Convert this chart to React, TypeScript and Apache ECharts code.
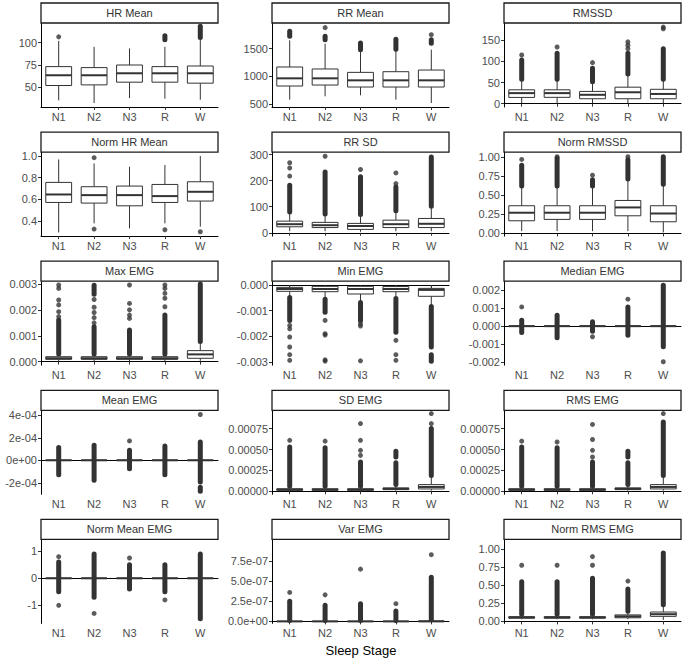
import React, { useEffect, useRef } from "react";
import * as echarts from "echarts";

const stages = ["N1", "N2", "N3", "R", "W"];

// ---------- Row 1 ----------
const hrMeanBoxes = [[35.7, 52.2, 63.6, 73.2, 101.8], [32.7, 52.9, 63.6, 72.1, 95.2], [38.2, 55.9, 65.8, 75, 93.4], [37.5, 55.9, 65.8, 73.2, 95.2], [36.4, 54.8, 65.8, 73.9, 104]];
const hrMeanRuns = [[3, 103, 107.4], [4, 105.5, 118]];
const hrMeanDots = [[0, 106.3]];
const hrMeanRange = [28.3, 121.7];
const hrMeanTicks = [50, 75, 100];
const hrMeanLabels = ["50", "75", "100"];

const rrMeanBoxes = [[578, 825, 964, 1169, 1651], [639, 843, 964, 1133, 1590], [657, 807, 928, 1072, 1470], [578, 807, 928, 1084, 1470], [518, 807, 928, 1114, 1482]];
const rrMeanRuns = [[0, 1723, 1813], [1, 1663, 1723], [2, 1480, 1602], [3, 1490, 1669], [4, 1600, 1663]];
const rrMeanDots = [[1, 1880], [4, 1753]];
const rrMeanRange = [446, 1964];
const rrMeanTicks = [500, 1000, 1500];
const rrMeanLabels = ["500", "1000", "1500"];

const rmssdBoxes = [[1.6, 14.8, 25, 32.8, 56], [0, 15, 25, 32.8, 56], [1, 11.7, 21, 29, 48], [1, 11.7, 27, 39, 68], [1, 11.7, 23, 34, 56]];
const rmssdRuns = [[0, 58, 103], [1, 58, 119], [2, 52, 84], [3, 70, 119], [4, 58, 130]];
const rmssdDots = [[0, 115], [1, 134], [2, 97], [3, 130], [3, 138], [3, 146], [4, 177], [4, 181]];
const rmssdRange = [-7.8, 190.6];
const rmssdTicks = [0, 50, 100, 150];
const rmssdLabels = ["0", "50", "100", "150"];

// ---------- Row 2 ----------
const normHrBoxes = [[0.292, 0.57, 0.644, 0.756, 0.969], [0.376, 0.564, 0.638, 0.716, 0.932], [0.329, 0.539, 0.638, 0.722, 0.901], [0.376, 0.57, 0.629, 0.737, 0.917], [0.345, 0.583, 0.669, 0.762, 1.0]];
const normHrRuns: number[][] = [];
const normHrDots = [[1, 0.985], [1, 0.323], [3, 0.317], [4, 0.298]];
const normHrRange = [0.258, 1.037];
const normHrTicks = [0.4, 0.6, 0.8, 1.0];
const normHrLabels = ["0.4", "0.6", "0.8", "1.0"];

const rrSdBoxes = [[6, 23, 33, 44.7, 78], [6, 20, 29, 40, 70], [4, 13, 26, 36, 68], [6, 20, 33, 48.5, 83], [6, 20, 34.5, 55, 100]];
const rrSdRuns = [[0, 80, 183], [1, 72, 234], [2, 70, 215], [3, 85, 176], [4, 102, 291]];
const rrSdDots = [[0, 218], [0, 249], [0, 269], [1, 294], [2, 243], [3, 189], [3, 230]];
const rrSdRange = [-12.8, 310];
const rrSdTicks = [0, 100, 200, 300];
const rrSdLabels = ["0", "100", "200", "300"];

const normRmssdBoxes = [[0.03, 0.165, 0.27, 0.361, 0.61], [0.03, 0.183, 0.27, 0.361, 0.61], [0.03, 0.183, 0.27, 0.361, 0.61], [0.03, 0.23, 0.339, 0.43, 0.7], [0.013, 0.152, 0.26, 0.361, 0.63]];
const normRmssdRuns = [[0, 0.62, 0.89], [1, 0.62, 0.98], [2, 0.62, 0.7], [3, 0.71, 0.96], [4, 0.64, 1.0]];
const normRmssdDots = [[0, 0.965], [1, 1.0], [2, 0.76], [3, 1.0]];
const normRmssdRange = [-0.035, 1.061];
const normRmssdTicks = [0, 0.25, 0.5, 0.75, 1.0];
const normRmssdLabels = ["0.00", "0.25", "0.50", "0.75", "1.00"];

// ---------- Row 3 ----------
const maxEmgBoxes = [[0.00002, 0.00009, 0.00013, 0.00019, 0.00028], [0.00002, 0.00009, 0.00013, 0.00019, 0.00028], [0.00002, 0.00009, 0.00013, 0.00019, 0.00028], [0.00002, 0.00009, 0.00013, 0.00019, 0.00028], [0.00003, 0.000129, 0.00028, 0.000425, 0.00077]];
const maxEmgRuns = [[0, 0.00029, 0.00161], [1, 0.00029, 0.00135], [1, 0.0026, 0.00295], [2, 0.00029, 0.00122], [3, 0.00029, 0.0018], [4, 0.00078, 0.003]];
const maxEmgDots = [[0, 0.00174], [0, 0.00193], [0, 0.00219], [0, 0.00238], [0, 0.00283], [0, 0.00296], [1, 0.0015], [1, 0.0017], [1, 0.0019], [1, 0.0021], [1, 0.0024], [2, 0.00167], [2, 0.0018], [2, 0.002], [2, 0.00225], [2, 0.00296], [3, 0.00212], [3, 0.00245], [3, 0.00264], [3, 0.00283], [3, 0.00296]];
const maxEmgRange = [-0.000138, 0.003108];
const maxEmgTicks = [0, 0.001, 0.002, 0.003];
const maxEmgLabels = ["0.000", "0.001", "0.002", "0.003"];

const minEmgBoxes = [[-0.00048, -0.000246, -0.000155, -0.00009, 0], [-0.00054, -0.00026, -0.000155, -0.00005, 0], [-0.00067, -0.00035, -0.000155, -0.00005, 0], [-0.00052, -0.00026, -0.000155, -0.00006, 0], [-0.00083, -0.00044, -0.00019, -0.00013, 0]];
const minEmgRuns = [[0, -0.00138, -0.00049], [1, -0.00106, -0.00055], [2, -0.00138, -0.00068], [3, -0.00184, -0.00053], [4, -0.00242, -0.00084], [4, -0.00298, -0.00272]];
const minEmgDots = [[0, -0.00158], [0, -0.00171], [0, -0.00203], [0, -0.00242], [0, -0.00272], [0, -0.00294], [1, -0.00138], [1, -0.0019], [1, -0.00195], [1, -0.00292], [1, -0.00297], [2, -0.00151], [2, -0.0016], [2, -0.00296], [3, -0.00216], [3, -0.00272], [3, -0.00294]];
const minEmgRange = [-0.00313, 0.00015];
const minEmgTicks = [-0.003, -0.002, -0.001, 0];
const minEmgLabels = ["-0.003", "-0.002", "-0.001", "0.000"];

const medianEmgBoxes = [[0, 0, 0, 0, 0], [0, 0, 0, 0, 0], [0, 0, 0, 0, 0], [0, 0, 0, 0, 0], [0, 0, 0, 0, 0]];
const medianEmgRuns = [[0, -0.00035, 0.00033], [1, -0.00065, 0.00061], [2, -0.00028, 0.00024], [3, -0.0005, 0.00107], [4, -0.00115, 0.00228]];
const medianEmgDots = [[0, 0.00107], [2, -0.00059], [3, 0.0015], [4, -0.00198]];
const medianEmgRange = [-0.00217, 0.0025];
const medianEmgTicks = [-0.002, -0.001, 0, 0.001, 0.002];
const medianEmgLabels = ["-0.002", "-0.001", "0.000", "0.001", "0.002"];

// ---------- Row 4 ----------
const meanEmgBoxes = [[0, 0, 0, 0, 0], [0, 0, 0, 0, 0], [0, 0, 0, 0, 0], [0, 0, 0, 0, 0], [0, 0, 0, 0, 0]];
const meanEmgRuns = [[0, -1.28e-4, 1.13e-4], [1, -1.78e-4, 1.34e-4], [2, -0.74e-4, 0.89e-4], [3, -1.28e-4, 1.28e-4], [4, -1.93e-4, 1.63e-4], [4, -2.76e-4, -2.4e-4]];
const meanEmgDots = [[2, 1.72e-4], [4, 4.07e-4]];
const meanEmgRange = [-3.02e-4, 4.44e-4];
const meanEmgTicks = [-2e-4, 0, 2e-4, 4e-4];
const meanEmgLabels = ["-2e-04", "0e+00", "2e-04", "4e-04"];

const sdEmgBoxes = [[0.000003, 0.000012, 0.00002, 0.00003, 0.00006], [0.000003, 0.000012, 0.00002, 0.00003, 0.00006], [0.000003, 0.000012, 0.00002, 0.00003, 0.00006], [0.000008, 0.00002, 0.00003, 0.00004, 0.00008], [0.000008, 0.000028, 0.000052, 0.00008, 0.00019]];
const sdEmgRuns = [[0, 0.00006, 0.00053], [1, 0.00006, 0.00052], [2, 0.00006, 0.00035], [3, 0.00008, 0.00034], [3, 0.00041, 0.00048], [4, 0.00019, 0.00075]];
const sdEmgDots = [[0, 0.00061], [1, 0.0006], [2, 0.00043], [2, 0.00049], [2, 0.00061], [2, 0.00081], [4, 0.00081], [4, 0.00093]];
const sdEmgRange = [-0.000036, 0.000969];
const sdEmgTicks = [0, 0.00025, 0.0005, 0.00075];
const sdEmgLabels = ["0.00000", "0.00025", "0.00050", "0.00075"];

const rmsEmgBoxes = [[0.000003, 0.000012, 0.00002, 0.00003, 0.00006], [0.000003, 0.000012, 0.00002, 0.00003, 0.00006], [0.000003, 0.000012, 0.00002, 0.00003, 0.00006], [0.000008, 0.00002, 0.00003, 0.00004, 0.00008], [0.000008, 0.000028, 0.000052, 0.00008, 0.00019]];
const rmsEmgRuns = [[0, 0.00006, 0.00053], [1, 0.00006, 0.00052], [2, 0.00006, 0.00035], [3, 0.00008, 0.00034], [3, 0.00041, 0.00048], [4, 0.00019, 0.00083]];
const rmsEmgDots = [[0, 0.0006], [1, 0.00059], [2, 0.00041], [2, 0.00049], [2, 0.00062], [2, 0.0008], [4, 0.00093]];
const rmsEmgRange = [-0.000036, 0.000969];
const rmsEmgTicks = [0, 0.00025, 0.0005, 0.00075];
const rmsEmgLabels = ["0.00000", "0.00025", "0.00050", "0.00075"];

// ---------- Row 5 ----------
const normMeanEmgBoxes = [[0, 0, 0, 0, 0], [0, 0, 0, 0, 0], [0, 0, 0, 0, 0], [0, 0, 0, 0, 0], [0, 0, 0, 0, 0]];
const normMeanEmgRuns = [[0, -0.5, 0.6], [1, -0.7, 0.9], [2, -0.4, 0.5], [3, -0.5, 0.5], [4, -1.5, 0.9]];
const normMeanEmgDots = [[0, 0.8], [0, -1.0], [1, -1.3], [2, 0.75], [3, -0.8], [3, -1.7]];
const normMeanEmgRange = [-1.67, 1.44];
const normMeanEmgTicks = [-1, 0, 1];
const normMeanEmgLabels = ["-1", "0", "1"];

const varEmgBoxes = [[0, 0, 0, 0, 0.00000001], [0, 0, 0, 0, 0.00000001], [0, 0, 0, 0, 0.00000001], [0, 0, 0, 0, 0.00000001], [0, 0, 0, 0.000000005, 0.00000002]];
const varEmgRuns = [[0, 0.00000001, 0.00000025], [1, 0.00000001, 0.0000002], [2, 0.00000001, 0.00000022], [3, 0.00000001, 0.00000013], [4, 0.00000002, 0.00000055]];
const varEmgDots = [[0, 0.00000036], [1, 0.00000033], [2, 0.00000065], [3, 0.00000022], [4, 0.00000083]];
const varEmgRange = [-0.000000025, 0.00000102];
const varEmgTicks = [0, 0.00000025, 0.0000005, 0.00000075];
const varEmgLabels = ["0.0e+00", "2.5e-07", "5.0e-07", "7.5e-07"];

const normRmsEmgBoxes = [[0.03, 0.045, 0.055, 0.065, 0.09], [0.03, 0.045, 0.055, 0.065, 0.09], [0.03, 0.045, 0.055, 0.065, 0.09], [0.03, 0.05, 0.07, 0.09, 0.13], [0.02, 0.07, 0.1, 0.13, 0.22]];
const normRmsEmgRuns = [[0, 0.1, 0.55], [1, 0.1, 0.55], [2, 0.1, 0.6], [3, 0.14, 0.45], [4, 0.23, 0.95]];
const normRmsEmgDots = [[0, 0.78], [1, 0.78], [2, 0.78], [2, 0.9], [3, 0.56]];
const normRmsEmgRange = [-0.028, 1.139];
const normRmsEmgTicks = [0, 0.25, 0.5, 0.75, 1.0];
const normRmsEmgLabels = ["0.00", "0.25", "0.50", "0.75", "1.00"];

const panelTitles = ["HR Mean", "RR Mean", "RMSSD", "Norm HR Mean", "RR SD", "Norm RMSSD", "Max EMG", "Min EMG", "Median EMG", "Mean EMG", "SD EMG", "RMS EMG", "Norm Mean EMG", "Var EMG", "Norm RMS EMG"];
const panelBoxes = [hrMeanBoxes, rrMeanBoxes, rmssdBoxes, normHrBoxes, rrSdBoxes, normRmssdBoxes, maxEmgBoxes, minEmgBoxes, medianEmgBoxes, meanEmgBoxes, sdEmgBoxes, rmsEmgBoxes, normMeanEmgBoxes, varEmgBoxes, normRmsEmgBoxes];
const panelRuns = [hrMeanRuns, rrMeanRuns, rmssdRuns, normHrRuns, rrSdRuns, normRmssdRuns, maxEmgRuns, minEmgRuns, medianEmgRuns, meanEmgRuns, sdEmgRuns, rmsEmgRuns, normMeanEmgRuns, varEmgRuns, normRmsEmgRuns];
const panelDots = [hrMeanDots, rrMeanDots, rmssdDots, normHrDots, rrSdDots, normRmssdDots, maxEmgDots, minEmgDots, medianEmgDots, meanEmgDots, sdEmgDots, rmsEmgDots, normMeanEmgDots, varEmgDots, normRmsEmgDots];
const panelRanges = [hrMeanRange, rrMeanRange, rmssdRange, normHrRange, rrSdRange, normRmssdRange, maxEmgRange, minEmgRange, medianEmgRange, meanEmgRange, sdEmgRange, rmsEmgRange, normMeanEmgRange, varEmgRange, normRmsEmgRange];
const panelTicks = [hrMeanTicks, rrMeanTicks, rmssdTicks, normHrTicks, rrSdTicks, normRmssdTicks, maxEmgTicks, minEmgTicks, medianEmgTicks, meanEmgTicks, sdEmgTicks, rmsEmgTicks, normMeanEmgTicks, varEmgTicks, normRmsEmgTicks];
const panelLabels = [hrMeanLabels, rrMeanLabels, rmssdLabels, normHrLabels, rrSdLabels, normRmssdLabels, maxEmgLabels, minEmgLabels, medianEmgLabels, meanEmgLabels, sdEmgLabels, rmsEmgLabels, normMeanEmgLabels, varEmgLabels, normRmsEmgLabels];

const FONT = "'Liberation Sans', Arial, Helvetica, sans-serif";
const COL_LEFT = [41, 272, 504];
const PANEL_W = 177;
const PLOT_H = 84;
const STRIP_H = 20;
const ROW_BOTTOM0 = 107;
const ROW_STEP = 129.1;
const INK = "#333333";

function buildOption() {
  const grid: any[] = [];
  const xAxis: any[] = [];
  const yAxis: any[] = [];
  const series: any[] = [];
  const graphic: any[] = [];

  panelTitles.forEach((title, i) => {
    const r = Math.floor(i / 3);
    const c = i % 3;
    const left = COL_LEFT[c];
    const bottom = ROW_BOTTOM0 + r * ROW_STEP;
    const top = bottom - PLOT_H;
    grid.push({ left, top, width: PANEL_W, height: PLOT_H, containLabel: false });
    xAxis.push({
      type: "category",
      gridIndex: i,
      data: stages,
      boundaryGap: true,
      axisLine: { show: true, lineStyle: { color: "#000", width: 1 } },
      axisTick: { show: true, alignWithLabel: true, length: 3, lineStyle: { color: INK, width: 1 } },
      axisLabel: { color: "#4d4d4d", fontSize: 11, margin: 4, fontFamily: FONT },
      splitLine: { show: false },
    });
    const ticks = panelTicks[i];
    const labels = panelLabels[i];
    const span = panelRanges[i][1] - panelRanges[i][0];
    yAxis.push({
      type: "value",
      gridIndex: i,
      min: panelRanges[i][0],
      max: panelRanges[i][1],
      axisLine: { show: true, lineStyle: { color: "#000", width: 1 } },
      axisTick: { show: true, length: 3, customValues: ticks, lineStyle: { color: INK, width: 1 } },
      axisLabel: {
        color: "#4d4d4d",
        fontSize: 11,
        margin: 4,
        fontFamily: FONT,
        customValues: ticks,
        formatter: (v: number) => {
          let best = 0;
          ticks.forEach((t, k) => {
            if (Math.abs(t - v) < Math.abs(ticks[best] - v)) best = k;
          });
          return Math.abs(ticks[best] - v) < span * 0.01 ? labels[best] : "";
        },
      },
      splitLine: { show: false },
    });

    series.push({
      type: "custom",
      xAxisIndex: i,
      yAxisIndex: i,
      data: panelRuns[i],
      encode: { x: 0, y: [1, 2] },
      z: 2,
      renderItem: (params: any, api: any) => {
        const x = api.value(0);
        const a = api.coord([x, api.value(1)]);
        const b = api.coord([x, api.value(2)]);
        return {
          type: "line",
          shape: { x1: a[0], y1: a[1], x2: b[0], y2: b[1] },
          style: { stroke: INK, lineWidth: 5, lineCap: "round" },
        };
      },
    });
    series.push({
      type: "scatter",
      xAxisIndex: i,
      yAxisIndex: i,
      data: panelDots[i],
      symbol: "circle",
      symbolSize: 5,
      itemStyle: { color: INK },
      z: 2,
    });
    series.push({
      type: "custom",
      xAxisIndex: i,
      yAxisIndex: i,
      data: panelBoxes[i].map((b, k) => [k, ...b]),
      encode: { x: 0, y: [1, 2, 3, 4, 5] },
      z: 3,
      renderItem: (params: any, api: any) => {
        const x = api.value(0);
        const lo = api.coord([x, api.value(1)]);
        const q1 = api.coord([x, api.value(2)]);
        const md = api.coord([x, api.value(3)]);
        const q3 = api.coord([x, api.value(4)]);
        const hi = api.coord([x, api.value(5)]);
        const bw = api.size([1, 0])[0] * 0.73;
        const cx = lo[0];
        return {
          type: "group",
          children: [
            { type: "line", shape: { x1: cx, y1: q1[1], x2: cx, y2: lo[1] }, style: { stroke: INK, lineWidth: 1 } },
            { type: "line", shape: { x1: cx, y1: q3[1], x2: cx, y2: hi[1] }, style: { stroke: INK, lineWidth: 1 } },
            {
              type: "rect",
              shape: { x: cx - bw / 2, y: q3[1], width: bw, height: Math.max(q1[1] - q3[1], 0) },
              style: { fill: "#ffffff", stroke: INK, lineWidth: 1 },
            },
            { type: "line", shape: { x1: cx - bw / 2, y1: md[1], x2: cx + bw / 2, y2: md[1] }, style: { stroke: INK, lineWidth: 2 } },
          ],
        };
      },
    });

    graphic.push({
      type: "rect",
      shape: { x: left, y: top - STRIP_H, width: PANEL_W, height: STRIP_H },
      style: { fill: "#ffffff", stroke: "#1a1a1a", lineWidth: 1.3 },
      z: 10,
    });
    graphic.push({
      type: "text",
      x: left + PANEL_W / 2,
      y: top - STRIP_H / 2,
      style: { text: title, fill: "#333333", fontSize: 11, fontWeight: "normal", fontFamily: FONT, textAlign: "center", textVerticalAlign: "middle" },
      z: 11,
    });
  });

  graphic.push({
    type: "text",
    x: (COL_LEFT[0] + COL_LEFT[2] + PANEL_W) / 2,
    y: 650,
    style: { text: "Sleep Stage", fill: "#000", fontSize: 13, fontWeight: "normal", fontFamily: FONT, textAlign: "center", textVerticalAlign: "middle" },
    z: 11,
  });

  return {
    animation: false,
    backgroundColor: "#ffffff",
    grid,
    xAxis,
    yAxis,
    series,
    graphic,
  };
}

export default function App() {
  const ref = useRef<HTMLDivElement>(null);
  useEffect(() => {
    if (!ref.current) return;
    const chart = echarts.init(ref.current, undefined, { renderer: "svg" });
    chart.setOption(buildOption() as any);
    return () => chart.dispose();
  }, []);
  return <div ref={ref} style={{ position: "fixed", left: 0, top: 0, width: 685, height: 659, background: "#fff" }} />;
}
